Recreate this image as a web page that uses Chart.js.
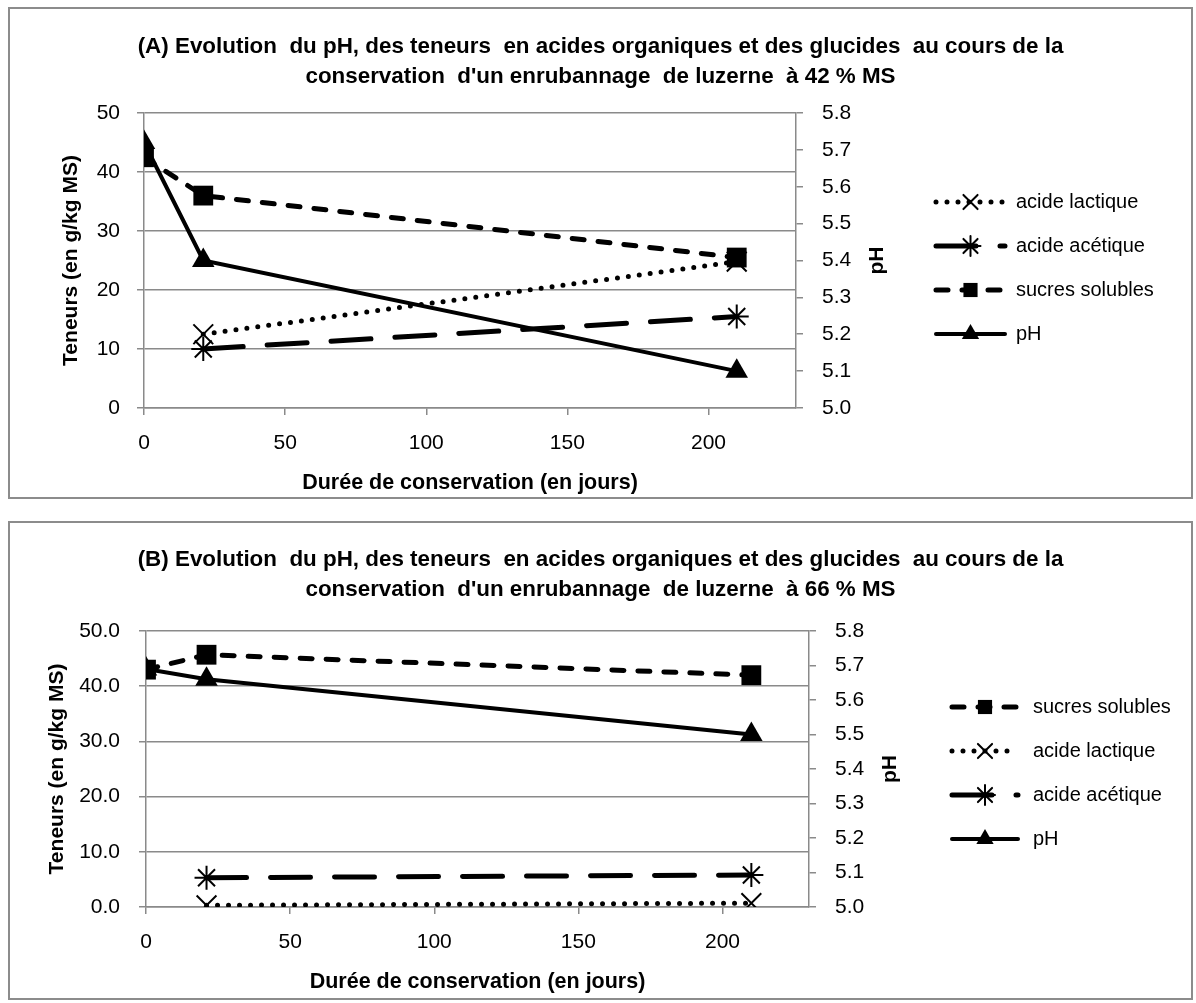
<!DOCTYPE html>
<html>
<head>
<meta charset="utf-8">
<script src="https://cdn.jsdelivr.net/npm/chart.js@4.4.0/dist/chart.umd.min.js"></script>
<style>
    body { margin: 0; background: #fff; }
    .box { position: absolute; left: 8px; width: 1181px; border: 2px solid #8c8c8c; background: #fff; }
    #boxA { top: 7px; height: 488px; }
    #boxB { top: 521px; height: 475px; }
    canvas { display: block; }
</style>
</head>
<body>
<div class="box" id="boxA"><canvas id="chartA" width="1181" height="488"></canvas></div>
<div class="box" id="boxB"><canvas id="chartB" width="1181" height="475"></canvas></div>
<script>
// days of conservation
const days = [0, 21, 210];

// (A) luzerne 42 % MS
const lactiqueA = [null, 12.5, 24.8];
const aceticA = [null, 10.0, 15.5];
const sucresA = [42.5, 36.0, 25.5];
const phA = [5.72, 5.40, 5.10];

// (B) luzerne 66 % MS
const sucresB = [43.0, 45.7, 42.0];
const lactiqueB = [null, 0.3, 0.7];
const aceticB = [null, 5.3, 5.8];
const phB = [5.69, 5.66, 5.50];

const xTicks = [0, 50, 100, 150, 200];
const leftTicksA = [0, 10, 20, 30, 40, 50];
const leftTicksB = [0, 10, 20, 30, 40, 50];
const phTicks = [5.0, 5.1, 5.2, 5.3, 5.4, 5.5, 5.6, 5.7, 5.8];

const titleA = ["(A) Evolution  du pH, des teneurs  en acides organiques et des glucides  au cours de la", "conservation  d'un enrubannage  de luzerne  à 42 % MS"];
const titleB = ["(B) Evolution  du pH, des teneurs  en acides organiques et des glucides  au cours de la", "conservation  d'un enrubannage  de luzerne  à 66 % MS"];

const FONT = "'Liberation Sans Narrow', 'Liberation Sans', Arial, sans-serif";
const GRID = '#8a8a8a';
Chart.defaults.font.family = FONT;
Chart.defaults.color = '#000';

const toPoints = vals => days.map((d, i) => ({ x: d, y: vals[i] })).filter(p => p.y !== null);

const styles = {
    lactique: { label: 'acide lactique', borderDash: [0, 11], borderWidth: 5, pointStyle: 'crossRot', pointRadius: 14, pointBorderWidth: 2 },
    acetique: { label: 'acide acétique', borderDash: [40, 24], borderWidth: 5, pointStyle: 'star', pointRadius: 12, pointBorderWidth: 2 },
    sucres: { label: 'sucres solubles', borderDash: [12, 14], borderWidth: 5, pointStyle: 'rect', pointRadius: 14, pointBorderWidth: 0 },
    ph: { label: 'pH', borderDash: [], borderWidth: 4, pointStyle: 'triangle', pointRadius: 13, pointBorderWidth: 0 }
};

const makeDataset = (key, vals, axis) => Object.assign({
    data: toPoints(vals),
    yAxisID: axis,
    borderColor: '#000',
    backgroundColor: '#000',
    pointBackgroundColor: '#000',
    pointBorderColor: '#000',
    borderCapStyle: 'round',
    tension: 0,
    fill: false
}, styles[key]);

// legend with line samples + right axis title drawn by hand
const excelExtras = {
    id: 'excelExtras',
    afterDraw(chart, args, opts) {
        const ctx = chart.ctx;
        ctx.save();
        opts.order.forEach((idx, i) => {
            const ds = chart.data.datasets[idx];
            const y = opts.top + i * opts.gap;
            ctx.beginPath();
            ctx.setLineDash(ds.borderDash);
            ctx.lineCap = 'round';
            ctx.lineWidth = ds.borderWidth;
            ctx.strokeStyle = '#000';
            ctx.moveTo(opts.x0, y);
            ctx.lineTo(opts.x1, y);
            ctx.stroke();
            ctx.setLineDash([]);
            ctx.fillStyle = '#000';
            ctx.lineWidth = 2;
            Chart.helpers.drawPoint(ctx, { pointStyle: ds.pointStyle, radius: 10, rotation: 0, borderWidth: ds.pointBorderWidth }, (opts.x0 + opts.x1) / 2, y);
            ctx.font = '20px ' + FONT;
            ctx.textBaseline = 'middle';
            ctx.textAlign = 'left';
            ctx.fillText(ds.label, opts.textX, y);
        });
        const area = chart.chartArea;
        ctx.translate(opts.phX, (area.top + area.bottom) / 2);
        ctx.rotate(-Math.PI / 2);
        ctx.font = 'bold 21px ' + FONT;
        ctx.textAlign = 'center';
        ctx.textBaseline = 'middle';
        ctx.fillText('pH', 0, 0);
        ctx.restore();
    }
};

const makeChart = (id, datasets, cfg) => new Chart(document.getElementById(id), {
    type: 'line',
    data: { datasets },
    plugins: [excelExtras],
    options: {
        responsive: false,
        animation: false,
        devicePixelRatio: 1,
        layout: { padding: 0 },
        plugins: {
            legend: { display: false },
            tooltip: { enabled: false },
            title: {
                display: true,
                text: cfg.title,
                font: { size: 22.4, weight: 'bold', lineHeight: 30 / 22.4 },
                padding: cfg.titlePad
            },
            excelExtras: cfg.legend
        },
        scales: {
            x: {
                type: 'linear',
                min: 0,
                max: cfg.xMax,
                afterBuildTicks: s => { s.ticks = xTicks.map(v => ({ value: v })); },
                afterFit: s => { s.height = cfg.bottomH; },
                ticks: { font: { size: 21 }, padding: 16 },
                grid: { drawOnChartArea: false, color: GRID, lineWidth: 1.5, tickLength: 7 },
                border: { color: GRID, width: 1.5 },
                title: { display: true, text: 'Durée de conservation (en jours)', font: { size: 21.5, weight: 'bold' }, padding: { top: 0, bottom: cfg.xTitlePad } }
            },
            y: {
                position: 'left',
                min: 0,
                max: 50,
                afterBuildTicks: s => { s.ticks = cfg.leftTicks.map(v => ({ value: v })); },
                afterFit: s => { s.width = cfg.leftW; },
                ticks: { font: { size: 21 }, padding: cfg.leftPad, callback: cfg.leftFmt },
                grid: { color: GRID, lineWidth: 1.5, tickLength: 7 },
                border: { color: GRID, width: 1.5 },
                title: { display: true, text: 'Teneurs (en g/kg MS)', font: { size: 21, weight: 'bold' }, padding: { top: cfg.yTitlePad, bottom: 0 } }
            },
            y1: {
                position: 'right',
                min: 5.0,
                max: 5.8,
                afterBuildTicks: s => { s.ticks = phTicks.map(v => ({ value: v })); },
                afterFit: s => { s.width = cfg.rightW; },
                ticks: { font: { size: 21 }, padding: 19, callback: v => v.toFixed(1) },
                grid: { drawOnChartArea: false, color: GRID, lineWidth: 1.5, tickLength: 7 },
                border: { color: GRID, width: 1.5 }
            }
        }
    }
});

makeChart('chartA', [
    makeDataset('lactique', lactiqueA, 'y'),
    makeDataset('acetique', aceticA, 'y'),
    makeDataset('sucres', sucresA, 'y'),
    makeDataset('ph', phA, 'y1')
], {
    title: titleA,
    titlePad: { top: 23, bottom: 21 },
    xMax: 231,
    leftW: 134,
    rightW: 395,
    bottomH: 89,
    xTitlePad: 1,
    yTitlePad: 49,
    leftPad: 17,
    leftTicks: leftTicksA,
    leftFmt: v => String(v),
    legend: { order: [0, 1, 2, 3], x0: 926, x1: 995, textX: 1006, top: 193, gap: 44, phX: 867 }
});

makeChart('chartB', [
    makeDataset('sucres', sucresB, 'y'),
    makeDataset('lactique', lactiqueB, 'y'),
    makeDataset('acetique', aceticB, 'y'),
    makeDataset('ph', phB, 'y1')
], {
    title: titleB,
    titlePad: { top: 22, bottom: 26 },
    xMax: 230,
    leftW: 136,
    rightW: 382,
    bottomH: 91,
    xTitlePad: 3,
    yTitlePad: 35,
    leftPad: 19,
    leftTicks: leftTicksB,
    leftFmt: v => v.toFixed(1),
    legend: { order: [0, 1, 2, 3], x0: 942, x1: 1008, textX: 1023, top: 184, gap: 44, phX: 880 }
});
</script>
</body>
</html>
